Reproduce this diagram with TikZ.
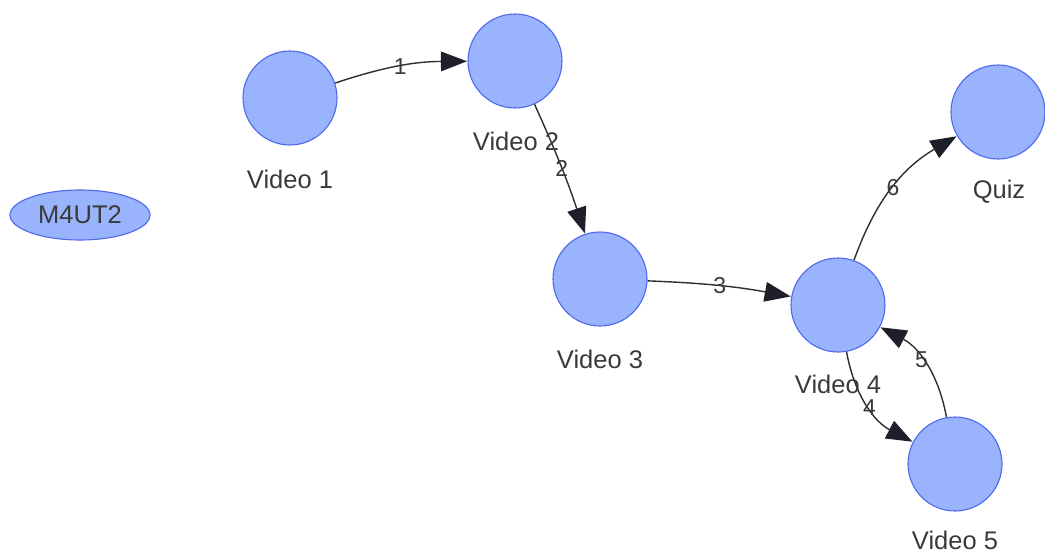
\documentclass[tikz,border=0pt]{standalone}
\usepackage{fontspec}
\setmainfont{Liberation Sans}
\usetikzlibrary{arrows.meta,shapes.geometric}
\definecolor{nodefill}{HTML}{99B3FC}
\definecolor{nodeline}{HTML}{5068EC}
\definecolor{edgecol}{HTML}{2E2E2E}
\definecolor{tipcol}{HTML}{1E1F2B}
\definecolor{txtcol}{HTML}{3A3A3A}
\tikzset{
  vid/.style={circle, draw=nodeline, fill=nodefill, line width=1.1pt, minimum size=94pt, inner sep=0pt},
  grp/.style={ellipse, draw=nodeline, fill=nodefill, line width=1.1pt, minimum width=140pt, minimum height=50pt, inner sep=0pt, text=txtcol, font=\fontsize{25.5}{29}\selectfont},
  lbl/.style={text=txtcol, font=\fontsize{25.5}{29}\selectfont, inner sep=0pt},
  link/.style={draw=edgecol, line width=1.4pt, -{Triangle[length=26pt,width=20pt,fill=tipcol,line width=0pt]}, shorten >=0.5pt},
  num/.style={text=txtcol, font=\fontsize{23}{27}\selectfont, inner sep=0pt}
}
\begin{document}
\begin{tikzpicture}[x=1pt,y=-1pt]
  \useasboundingbox (0,0) rectangle (1045,554);
  % modules
  \node[vid] (v1) at (290,98) {};
  \node[vid] (v2) at (515,61) {};
  \node[vid] (v3) at (600,279) {};
  \node[vid] (v4) at (838,305) {};
  \node[vid] (v5) at (955,464) {};
  \node[vid] (qz) at (998,112) {};
  \node[grp] (grp) at (80,215) {M4UT2};
  % connections
  \draw[link] (v1) to[bend left=9] node[num] (n1) {1} (v2);
  \draw[link] (v2) to[bend left=3] node[num] (n2) {2} (v3);
  \draw[link] (v3) to[bend left=4] node[num] (n3) {3} (v4);
  \draw[link] (v4) to[bend right=26] node[num,pos=0.52] (n4) {4} (v5);
  \draw[link] (v5) to[bend right=26] node[num,pos=0.55] (n5) {5} (v4);
  \draw[link] (v4) to[bend left=20] node[num] (n6) {6} (qz);
  % captions
  \node[lbl] (t1) at (290,179) {Video 1};
  \node[lbl] (t2) at (516,141) {Video 2};
  \node[lbl] (t3) at (600,359) {Video 3};
  \node[lbl] (t4) at (838,384) {Video 4};
  \node[lbl] (t5) at (955,540) {Video 5};
  \node[lbl] (tq) at (999,192) {Quiz};
\end{tikzpicture}
\end{document}
